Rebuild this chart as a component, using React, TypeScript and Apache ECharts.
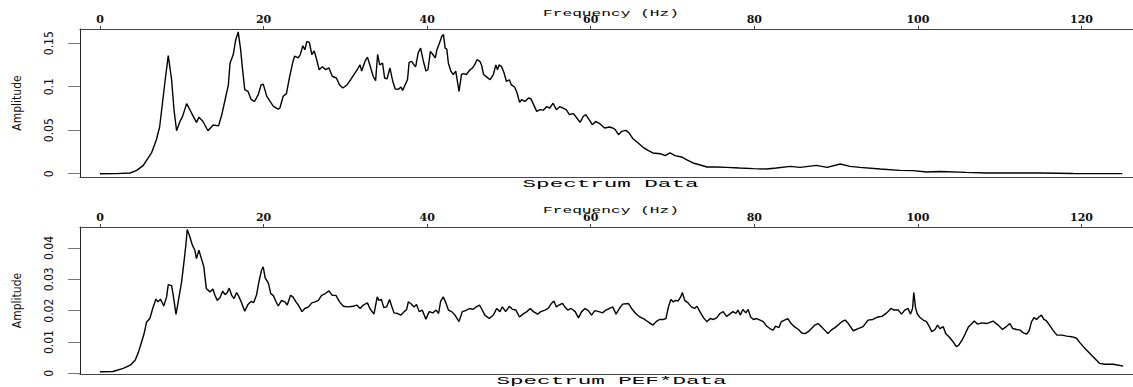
import React, { useEffect, useRef } from "react";
import * as echarts from "echarts";

const freqTicks = [0, 20, 40, 60, 80, 100, 120];
const dataTicks = [0, 0.05, 0.1, 0.15];
const pefTicks = [0, 0.01, 0.02, 0.03, 0.04];

const titles = ["Spectrum Data", "Spectrum PEF*Data"];
const xName = "Frequency (Hz)";
const yName = "Amplitude";

const dataFreq = [
  0, 2, 3.7, 4.5, 5.3, 6.3, 6.9, 7.3, 7.74, 8.03, 8.35, 8.76, 9.05, 9.37, 9.78, 10.1, 10.6, 11.2, 11.8, 12.1,
  12.6, 13.2, 13.85, 14.5, 14.9, 15.3, 15.7, 15.9, 16.3, 16.6, 16.9, 17.2, 17.4, 17.7, 18.1, 18.5, 18.9, 19.35,
  19.7, 19.96, 20.4, 20.8, 21.2, 21.8, 22.0, 22.4, 22.8, 23.2, 23.6, 23.8, 24.25, 24.5, 24.8, 25.05, 25.3, 25.6,
  25.9, 26.2, 26.5, 26.8, 27.2, 27.6, 28.0, 28.4, 28.9, 29.3, 29.7, 30.2, 30.65, 31.05, 31.45, 31.8, 32.0, 32.4,
  32.7, 33.0, 33.4, 33.7, 33.95, 34.2, 34.55, 34.8, 35.1, 35.45, 35.8, 36.1, 36.5, 36.8, 37.0, 37.3, 37.6, 37.8,
  38.1, 38.4, 38.6, 38.9, 39.2, 39.5, 39.85, 40.1, 40.4, 40.7, 41.0, 41.2, 41.5, 41.8, 42.0, 42.2, 42.4, 42.6,
  42.9, 43.2, 43.5, 43.7, 43.9, 44.2, 44.4, 44.8, 45.2, 45.55, 45.8, 46.1, 46.45, 46.65, 46.9, 47.3, 47.7, 48.1,
  48.4, 48.6, 48.8, 49.1, 49.4, 49.7, 50.05, 50.3, 50.7, 51.0, 51.3, 51.55, 51.95, 52.4, 52.7, 53.0, 53.4, 53.8,
  54.2, 54.6, 55.0, 55.4, 55.8, 56.2, 56.6, 57.0, 57.4, 57.9, 58.3, 58.7, 59.1, 59.4, 59.8, 60.2, 60.6, 61.1,
  61.7, 62.3, 62.7, 63.0, 63.4, 63.8, 64.3, 64.7, 65.2, 65.8, 66.4, 67.0, 67.6, 68.5, 69.1, 69.7, 70.3, 71.1,
  71.7, 72.5, 73.3, 74.2, 75.4, 76.6, 78.2, 79.9, 81.5, 82.7, 84.4, 85.6, 87.6, 88.9, 90.5, 91.7, 92.9, 95.4,
  97.8, 99.4, 101.1, 102.7, 105.9, 108.4, 112.9, 114.9, 119, 125,
];
const dataAmp = [
  0, 0.0001, 0.0008, 0.0038, 0.0096, 0.0238, 0.039, 0.054, 0.089, 0.112, 0.1356, 0.108, 0.0736, 0.0494, 0.06,
  0.0659, 0.0805, 0.0697, 0.059, 0.065, 0.06, 0.0494, 0.056, 0.055, 0.068, 0.085, 0.102, 0.127, 0.137, 0.154,
  0.163, 0.1425, 0.123, 0.0966, 0.0946, 0.085, 0.083, 0.0908, 0.102, 0.103, 0.0889, 0.083, 0.0774, 0.0743,
  0.0755, 0.089, 0.092, 0.112, 0.129, 0.135, 0.133, 0.137, 0.147, 0.1425, 0.152, 0.151, 0.137, 0.141, 0.131,
  0.1195, 0.123, 0.1195, 0.1215, 0.112, 0.11, 0.102, 0.0985, 0.102, 0.108, 0.1138, 0.1195, 0.125, 0.118, 0.129,
  0.134, 0.125, 0.112, 0.107, 0.137, 0.125, 0.127, 0.11, 0.109, 0.1215, 0.106, 0.0973, 0.097, 0.0996, 0.0958,
  0.102, 0.108, 0.128, 0.129, 0.125, 0.123, 0.1387, 0.1444, 0.131, 0.118, 0.1195, 0.1406, 0.137, 0.133, 0.1425,
  0.15, 0.158, 0.16, 0.1444, 0.1433, 0.127, 0.118, 0.1138, 0.118, 0.106, 0.0946, 0.1138, 0.115, 0.114, 0.119,
  0.1215, 0.125, 0.131, 0.129, 0.125, 0.114, 0.111, 0.108, 0.114, 0.125, 0.1195, 0.125, 0.123, 0.116, 0.106,
  0.108, 0.102, 0.0996, 0.0927, 0.082, 0.085, 0.083, 0.087, 0.086, 0.0797, 0.0716, 0.0736, 0.073, 0.077, 0.0755,
  0.081, 0.0736, 0.077, 0.0755, 0.0736, 0.068, 0.069, 0.064, 0.059, 0.066, 0.068, 0.0621, 0.0563, 0.06, 0.0575,
  0.0525, 0.0537, 0.0525, 0.0506, 0.0448, 0.0487, 0.0498, 0.0467, 0.0398, 0.0352, 0.0303, 0.0268, 0.0238, 0.023,
  0.0207, 0.0238, 0.0207, 0.0192, 0.0161, 0.0123, 0.0103, 0.0077, 0.0077, 0.0073, 0.0065, 0.0058, 0.0054, 0.0065,
  0.0084, 0.0073, 0.0096, 0.0073, 0.0111, 0.0084, 0.0073, 0.0054, 0.0038, 0.0035, 0.002, 0.0025, 0.0015, 0.0008,
  0.0008, 0.0008, 0.0002, 0.0001,
];

const pefFreq = [
  0, 1.6, 2.85, 3.7, 4.3, 4.7, 5.1, 5.4, 5.7, 6.1, 6.45, 6.85, 7.1, 7.4, 7.8, 8.15, 8.35, 8.76, 8.96, 9.3, 9.57,
  9.98, 10.27, 10.5, 10.67, 11.0, 11.3, 11.6, 11.8, 12.1, 12.4, 12.7, 13.0, 13.45, 13.8, 14.06, 14.34, 14.67,
  15.0, 15.3, 15.57, 15.8, 16.1, 16.4, 16.7, 16.95, 17.3, 17.7, 18.1, 18.5, 18.8, 19.15, 19.45, 19.75, 19.96,
  20.2, 20.6, 20.87, 21.2, 21.5, 21.8, 22.2, 22.6, 22.9, 23.3, 23.6, 23.96, 24.25, 24.7, 25.05, 25.5, 25.9, 26.3,
  26.7, 27.1, 27.5, 28.0, 28.4, 28.85, 29.3, 29.75, 30.35, 30.95, 31.4, 31.8, 32.2, 32.7, 33.0, 33.5, 33.9, 34.1,
  34.4, 34.7, 35.05, 35.4, 35.7, 35.95, 36.4, 36.8, 37.2, 37.5, 37.7, 38.0, 38.4, 38.7, 39.03, 39.4, 39.85,
  40.25, 40.7, 41.1, 41.4, 41.65, 41.97, 42.25, 42.6, 43.0, 43.4, 43.9, 44.3, 44.7, 45.2, 45.6, 46.0, 46.4,
  46.65, 47.05, 47.6, 48.1, 48.5, 48.9, 49.2, 49.6, 50.05, 50.45, 50.85, 51.3, 51.7, 52.2, 52.6, 53.0, 53.5,
  53.9, 54.4, 54.8, 55.2, 55.5, 55.8, 56.1, 56.55, 56.85, 57.2, 57.6, 58.1, 58.5, 58.9, 59.3, 59.7, 60.1, 60.5,
  61.0, 61.45, 61.85, 62.3, 62.7, 63.1, 63.5, 63.9, 64.6, 65.0, 65.5, 66.0, 66.6, 67.15, 67.6, 68.0, 68.4, 68.9,
  69.2, 69.5, 69.8, 70.1, 70.4, 70.7, 71.0, 71.2, 71.5, 71.9, 72.3, 72.7, 73.0, 73.35, 73.8, 74.2, 74.6, 75.0,
  75.4, 75.8, 76.2, 76.6, 77.0, 77.4, 77.75, 78.0, 78.3, 78.6, 78.97, 79.25, 79.55, 79.9, 80.3, 80.7, 81.1,
  81.5, 81.9, 82.3, 82.6, 83.0, 83.3, 83.7, 84.1, 84.5, 84.9, 85.4, 85.8, 86.2, 86.6, 87.0, 87.4, 87.8, 88.2,
  88.6, 89.0, 89.4, 89.85, 90.25, 90.7, 91.1, 91.5, 92.1, 92.7, 93.3, 93.9, 94.5, 95.1, 95.6, 96.2, 96.7, 97.1,
  97.6, 98.0, 98.4, 98.8, 99.1, 99.35, 99.5, 99.7, 99.9, 100.2, 100.65, 101.05, 101.4, 101.7, 102.1, 102.4,
  102.7, 103.1, 103.4, 103.8, 104.3, 104.7, 105.0, 105.4, 105.8, 106.2, 106.6, 106.9, 107.3, 107.8, 108.4,
  109.2, 109.8, 110.35, 110.8, 111.25, 111.6, 112.07, 112.5, 112.9, 113.3, 113.6, 113.9, 114.2, 114.5, 114.8,
  115.1, 115.4, 115.7, 116.1, 116.5, 117.0, 117.6, 118.2, 118.8, 119.4, 119.8, 120.4, 121.0, 121.6, 122.2,
  122.9, 123.9, 125.1,
];
const pefAmp = [
  0.0005, 0.0006, 0.0016, 0.0026, 0.0042, 0.0067, 0.0101, 0.0127, 0.0164, 0.0175, 0.0207, 0.0237, 0.0228,
  0.0237, 0.0215, 0.0244, 0.0283, 0.028, 0.0249, 0.0188, 0.0229, 0.0292, 0.0355, 0.0409, 0.0459, 0.0435,
  0.0409, 0.0393, 0.0366, 0.0393, 0.0366, 0.034, 0.0271, 0.026, 0.0269, 0.0249, 0.0233, 0.0241, 0.0262,
  0.0251, 0.0258, 0.0272, 0.0249, 0.0239, 0.0258, 0.0247, 0.0226, 0.0198, 0.022, 0.023, 0.0226, 0.0251,
  0.0294, 0.0329, 0.034, 0.0305, 0.0287, 0.0255, 0.0248, 0.023, 0.0215, 0.0233, 0.0228, 0.0218, 0.0249,
  0.0244, 0.0228, 0.0218, 0.0197, 0.0207, 0.0212, 0.0225, 0.0228, 0.0233, 0.0249, 0.0254, 0.0263, 0.0249,
  0.0249, 0.0228, 0.0214, 0.0212, 0.0214, 0.0218, 0.0207, 0.0218, 0.0225, 0.0207, 0.0189, 0.0244, 0.0233,
  0.0236, 0.021, 0.0212, 0.0236, 0.0212, 0.0193, 0.0191, 0.0186, 0.0197, 0.0204, 0.0228, 0.0223, 0.0212,
  0.022, 0.0197, 0.0202, 0.0173, 0.0197, 0.0193, 0.0202, 0.0191, 0.023, 0.0244, 0.0228, 0.0202, 0.0197,
  0.0186, 0.0165, 0.0197, 0.02, 0.0207, 0.0204, 0.0212, 0.0218, 0.0207, 0.0186, 0.0175, 0.0186, 0.0207,
  0.0197, 0.0212, 0.0197, 0.0214, 0.0204, 0.0202, 0.018, 0.0189, 0.0197, 0.0207, 0.0197, 0.0189, 0.0197,
  0.0202, 0.0207, 0.0223, 0.0231, 0.0212, 0.0218, 0.0223, 0.0212, 0.0202, 0.0207, 0.0197, 0.0177, 0.0197,
  0.0207, 0.02, 0.0186, 0.02, 0.0197, 0.0193, 0.0202, 0.0207, 0.0212, 0.0189, 0.0207, 0.0221, 0.0223, 0.0207,
  0.0191, 0.018, 0.0172, 0.0162, 0.0154, 0.0165, 0.0172, 0.0172, 0.0175, 0.0212, 0.0236, 0.0228, 0.0233,
  0.0231, 0.0244, 0.0258, 0.0233, 0.0225, 0.0212, 0.0207, 0.0214, 0.0197, 0.0177, 0.0165, 0.0175, 0.0172,
  0.0177, 0.0191, 0.0197, 0.0182, 0.0189, 0.0197, 0.0191, 0.0202, 0.0186, 0.0204, 0.0193, 0.0204, 0.018,
  0.0172, 0.0175, 0.017, 0.0165, 0.0151, 0.0143, 0.0138, 0.0151, 0.0146, 0.0165, 0.017, 0.0175, 0.0159,
  0.0149, 0.014, 0.0129, 0.0127, 0.0133, 0.0143, 0.0154, 0.0159, 0.0149, 0.0138, 0.0127, 0.0138, 0.0146,
  0.0154, 0.0165, 0.017, 0.0159, 0.0136, 0.0143, 0.0149, 0.017, 0.0172, 0.018, 0.0182, 0.0193, 0.0207,
  0.0202, 0.0202, 0.0189, 0.0202, 0.0207, 0.0189, 0.0207, 0.0258, 0.0212, 0.0191, 0.018, 0.017, 0.0165,
  0.0149, 0.0133, 0.014, 0.0154, 0.0143, 0.0149, 0.0127, 0.0117, 0.0101, 0.0085, 0.009, 0.0106, 0.0127,
  0.0149, 0.0159, 0.0167, 0.0157, 0.0161, 0.0159, 0.0167, 0.0154, 0.014, 0.0149, 0.0159, 0.0143, 0.014,
  0.0138, 0.0129, 0.0125, 0.0136, 0.0165, 0.0178, 0.0172, 0.018, 0.0186, 0.0172, 0.0168, 0.0154, 0.0138,
  0.0122, 0.0122, 0.0119, 0.0117, 0.0112, 0.0098, 0.008, 0.0064, 0.0048, 0.0032, 0.0029, 0.0029, 0.0023,
];

const X_MIN = -2.44;
const X_MAX = 126.3;

const tickFont = { fontFamily: "'DejaVu Serif', serif", fontSize: 11, fontWeight: "bold" as const, color: "#111" };
const narrowFont = "'Liberation Sans Narrow', 'DejaVu Sans Condensed', 'Liberation Sans', sans-serif";
const axisColor = "#444";

function xAxesFor(grid: number) {
  return [
    {
      gridIndex: grid,
      type: "value",
      position: "top",
      min: X_MIN,
      max: X_MAX,
      axisLine: { show: true, onZero: false, lineStyle: { color: axisColor, width: 1 } },
      axisTick: { show: true, length: 3, inside: false, customValues: freqTicks, lineStyle: { color: axisColor } },
      axisLabel: { customValues: freqTicks, margin: 4, ...tickFont },
      splitLine: { show: false },
    },
    {
      gridIndex: grid,
      type: "value",
      position: "bottom",
      min: X_MIN,
      max: X_MAX,
      axisLine: { show: true, onZero: false, lineStyle: { color: axisColor, width: 1 } },
      axisTick: { show: false },
      axisLabel: { show: false },
      splitLine: { show: false },
    },
  ];
}

function yAxisFor(grid: number, min: number, max: number, ticks: number[]) {
  return {
    gridIndex: grid,
    type: "value",
    min,
    max,
    axisLine: { show: true, onZero: false, lineStyle: { color: "#222", width: 1 } },
    axisTick: { show: true, length: 12, customValues: ticks, lineStyle: { color: "#777" } },
    axisLabel: {
      customValues: ticks,
      rotate: 90,
      margin: 25,
      fontFamily: narrowFont,
      fontSize: 12,
      color: "#111",
      formatter: (v: number) => String(+v.toFixed(4)),
    },
    splitLine: { show: false },
    name: yName,
    nameLocation: "middle",
    nameGap: 57,
    nameTextStyle: { fontFamily: narrowFont, fontSize: 12, color: "#111" },
  };
}

function label(text: string, x: number, y: number, size: number, scaleX: number) {
  return {
    type: "text",
    x,
    y,
    scaleX,
    style: {
      text,
      fontFamily: "'Liberation Mono', 'DejaVu Sans Mono', monospace",
      fontSize: size,
      fontWeight: "normal",
      fill: "#000",
      align: "center",
      verticalAlign: "middle",
      textAlign: "center",
      textVerticalAlign: "middle",
    },
  };
}

export default function App() {
  const ref = useRef<HTMLDivElement>(null);
  useEffect(() => {
    if (!ref.current) return;
    const chart = echarts.init(ref.current, undefined, { renderer: "svg" });
    const topData = dataFreq.map((f, i) => [f, dataAmp[i]]);
    const botData = pefFreq.map((f, i) => [f, pefAmp[i]]);
    chart.setOption({
      animation: false,
      backgroundColor: "#fff",
      grid: [
        { left: 80, top: 29, right: 0, height: 148 },
        { left: 80, top: 227, right: 0, height: 147 },
      ],
      xAxis: [...xAxesFor(0), ...xAxesFor(1)],
      yAxis: [yAxisFor(0, -0.0038, 0.1663, dataTicks), yAxisFor(1, -0.0002, 0.0467, pefTicks)],
      series: [
        {
          type: "line",
          xAxisIndex: 0,
          yAxisIndex: 0,
          data: topData,
          showSymbol: false,
          symbol: "none",
          lineStyle: { color: "#000", width: 1.4 },
        },
        {
          type: "line",
          xAxisIndex: 2,
          yAxisIndex: 1,
          data: botData,
          showSymbol: false,
          symbol: "none",
          lineStyle: { color: "#000", width: 1.4 },
        },
      ],
      graphic: [
        label(xName, 611, 14, 9, 1.8),
        label(titles[0], 610.5, 184, 11, 2.05),
        label(xName, 611, 210.5, 9, 1.8),
        label(titles[1], 611.5, 381, 11, 2.05),
      ],
    });
    return () => chart.dispose();
  }, []);
  return <div ref={ref} style={{ position: "fixed", left: 0, top: 0, width: 1133, height: 387 }} />;
}
